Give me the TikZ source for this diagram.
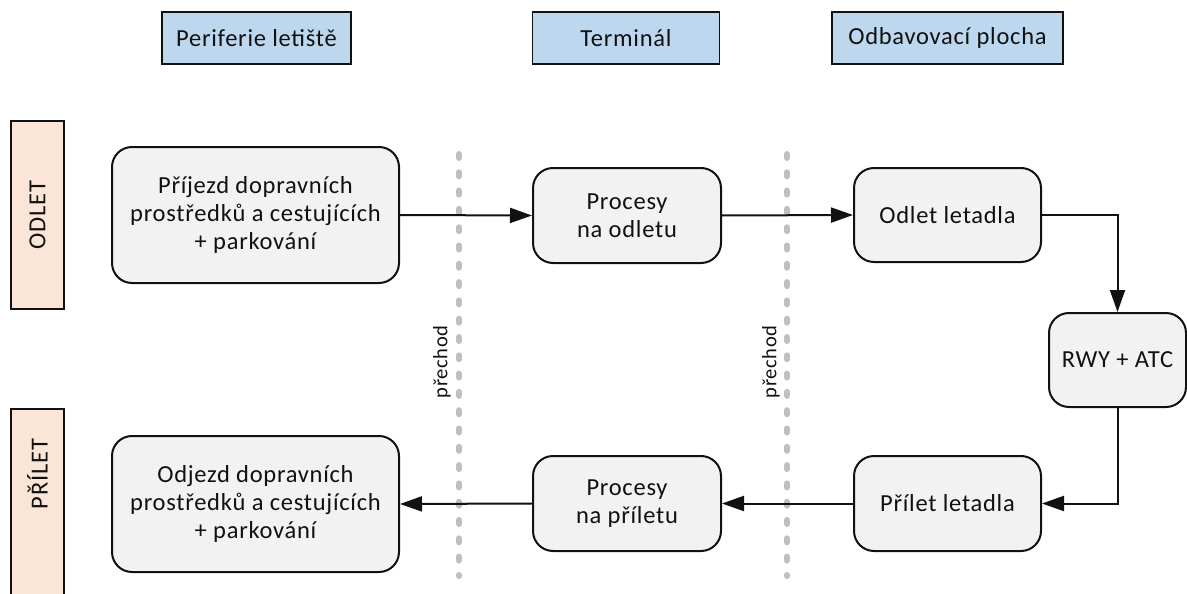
\documentclass[tikz,border=0pt]{standalone}
\usepackage{fontspec}
\setmainfont[LetterSpace=3]{Carlito}
\usetikzlibrary{arrows.meta}

\definecolor{procfill}{HTML}{F2F2F2}
\definecolor{headfill}{HTML}{BDD7EE}
\definecolor{sidefill}{HTML}{FBE5D6}
\definecolor{sepgray}{HTML}{BFBFBF}
\definecolor{ink}{HTML}{111111}

\tikzset{
  base/.style={draw=ink, line width=2pt, text=ink, inner sep=0pt, align=center,
    font=\fontsize{24.5}{28}\selectfont},
  header/.style={base, line width=1.6pt, fill=headfill, minimum height=52pt},
  side/.style={base, line width=1.6pt, fill=sidefill, minimum width=53pt},
  proc/.style={base, fill=procfill, rounded corners=20pt},
  flow/.style={draw=ink, line width=2pt, -{Triangle[length=22pt,width=15pt]}},
  sep/.style={draw=sepgray, line width=6pt, line cap=round, dash pattern=on 4pt off 14.3pt},
  seplabel/.style={text=ink, rotate=90, inner sep=0pt, font=\fontsize{20.5}{24}\selectfont},
  sidelabel/.style={text=ink, rotate=90, inner sep=0pt, font=\fontsize{24.5}{28}\selectfont}
}

\begin{document}
\begin{tikzpicture}[x=1pt, y=-1pt]
  \useasboundingbox (0,0) rectangle (1187,594);

  % zone headers
  \node[header, minimum width=189pt] (hper)  at (256.5,38) {Periferie letiště};
  \node[header, minimum width=187pt] (hterm) at (626,38)   {Terminál};
  \node[header, minimum width=231pt] (hodb)  at (947.5,38) {Odbavovací plocha};

  % side bands
  \node[side, minimum height=188pt] (sodlet) at (37.5,215) {};
  \node[sidelabel] (lodlet) at (sodlet.center) {ODLET};
  \node[side, minimum height=220pt] (sprilet) at (37.5,519) {};
  \node[sidelabel] (lprilet) at (37.5,474) {PŘÍLET};

  % transition separators
  \coordinate (s1top) at (459,154);
  \coordinate (s1bot) at (459,576);
  \coordinate (s2top) at (787,154);
  \coordinate (s2bot) at (787,576);
  \draw[sep] (s1top) -- (s1bot);
  \draw[sep] (s2top) -- (s2bot);
  \node[seplabel] (p1) at (442,362) {přechod};
  \node[seplabel] (p2) at (771,362) {přechod};

  % departure row
  \node[proc, minimum width=287pt, minimum height=136pt] (prij) at (255.5,215)
    {Příjezd dopravních\\prostředků a cestujících\\+ parkování};
  \node[proc, minimum width=188pt, minimum height=95pt] (podl) at (627,215.5)
    {Procesy\\na odletu};
  \node[proc, minimum width=187pt, minimum height=94pt] (odl) at (947.5,215)
    {Odlet letadla};

  % runway
  \node[proc, minimum width=137pt, minimum height=94pt] (rwy) at (1117.5,360)
    {RWY + ATC};

  % arrival row
  \node[proc, minimum width=187pt, minimum height=95pt] (pril) at (947.5,503.5)
    {Přílet letadla};
  \node[proc, minimum width=188pt, minimum height=95pt] (ppril) at (627,503.5)
    {Procesy\\na příletu};
  \node[proc, minimum width=287pt, minimum height=136pt] (odj) at (255.5,504)
    {Odjezd dopravních\\prostředků a cestujících\\+ parkování};

  % flow
  \draw[flow] (prij.east) -- (podl.west);
  \draw[flow] (podl.east) -- (odl.west);
  \draw[flow] (odl.east) -| (rwy.north);
  \draw[flow] (rwy.south) |- (pril.east);
  \draw[flow] (pril.west) -- (ppril.east);
  \draw[flow] (ppril.west) -- (odj.east);
\end{tikzpicture}
\end{document}
